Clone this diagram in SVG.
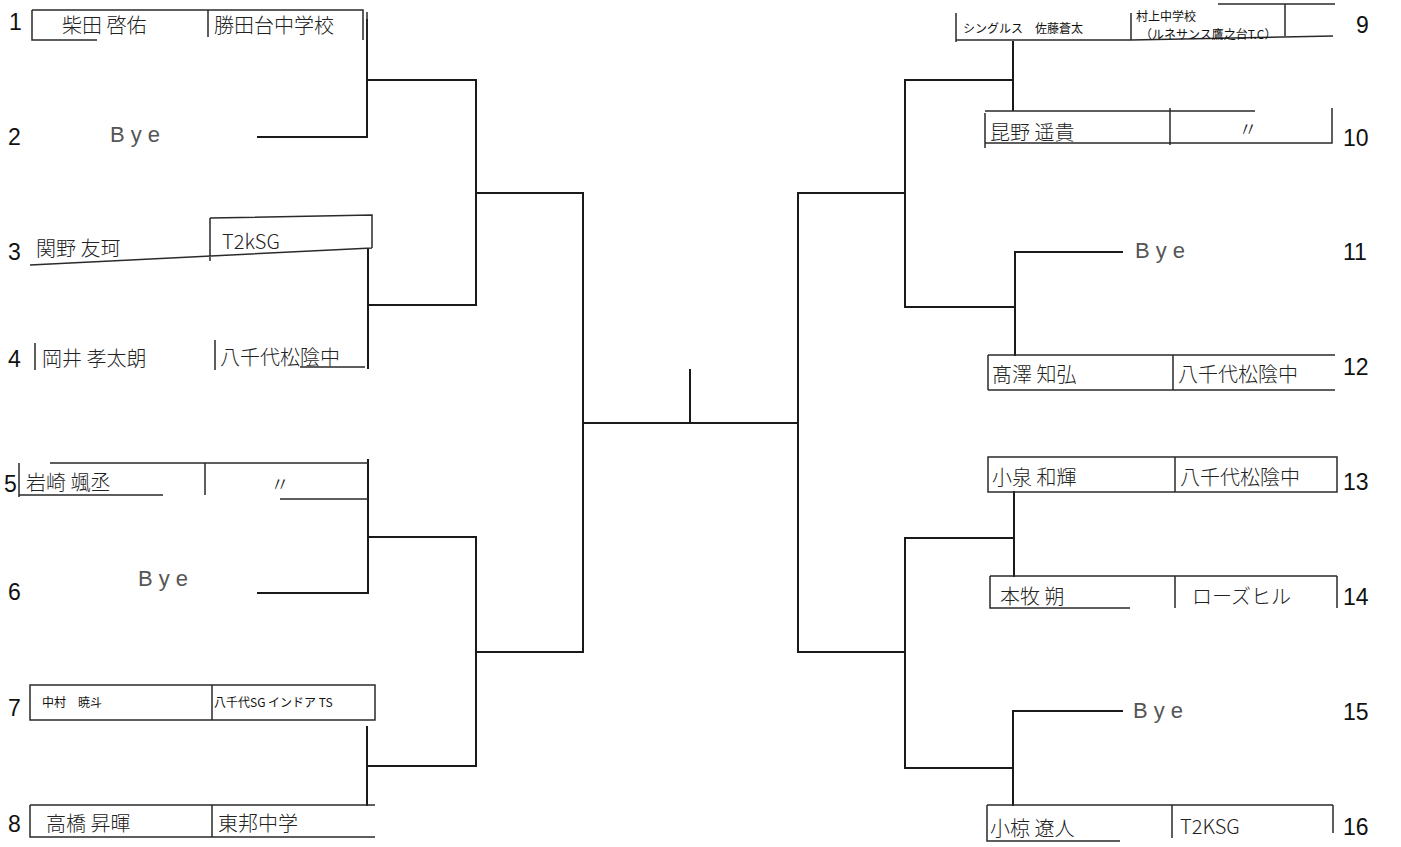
<svg xmlns="http://www.w3.org/2000/svg" width="1401" height="847" viewBox="0 0 1401 847">
<style>
.ln{stroke:#1a1a1a;stroke-width:2;fill:none;stroke-linecap:square}
.bx{stroke:#2a2a2a;stroke-width:1.5;fill:none}
.num{font-family:"Liberation Sans",Arial,sans-serif;font-size:23px;fill:#111}
.hw{font-family:"Noto Sans CJK JP","Noto Sans",sans-serif;font-size:20px;fill:#222;font-weight:300}
.pr{font-family:"Noto Sans CJK JP","Noto Sans",sans-serif;font-size:12px;fill:#111}
.bye{font-family:"Liberation Sans",Arial,sans-serif;font-size:22px;fill:#555;letter-spacing:6px}
</style>
<rect width="1401" height="847" fill="#fff"/>
<g id="connectors">
<path class="ln" d="M367 20V137M258 137H367M367 80H476"/>
<path class="ln" d="M368 250V368M368 305H476"/>
<path class="ln" d="M368 460V593M258 593H368M368 537H476"/>
<path class="ln" d="M367 727V805M367 766H476"/>
<path class="ln" d="M476 80V305M476 193H583"/>
<path class="ln" d="M476 537V766M476 652H583"/>
<path class="ln" d="M583 193V652M583 423H798M690 370V423"/>
<path class="ln" d="M798 193V652M798 193H905M798 652H905"/>
<path class="ln" d="M905 80V307M905 538V768"/>
<path class="ln" d="M1013 42V110M905 80H1013"/>
<path class="ln" d="M1015 252V355M1015 252H1122M905 307H1015"/>
<path class="ln" d="M1014 492V576M905 538H1014"/>
<path class="ln" d="M1013 711V805M1013 711H1122M905 768H1013"/>
</g>
<g id="n1">
<text class="num" x="9" y="30">1</text>
<path class="bx" d="M32 10H363V40M32 10V40H97M208 10V37M367 12V40"/>
<text class="hw" x="62" y="33">柴田 啓佑</text>
<text class="hw" x="214" y="33" font-size="19">勝田台中学校</text>
</g>
<g id="n2">
<text class="num" x="8" y="145">2</text>
<text class="bye" x="110" y="142">Bye</text>
</g>
<g id="n3">
<text class="num" x="8" y="260">3</text>
<path class="bx" d="M210 218L372 215V248M30 265L372 248M210 218V261"/>
<text class="hw" x="36" y="256">関野 友珂</text>
<text class="hw" x="222" y="249">T2kSG</text>
</g>
<g id="n4">
<text class="num" x="8" y="367">4</text>
<path class="bx" d="M35 343V370M215 340V370M300 367H365"/>
<text class="hw" x="42" y="366">岡井 孝太朗</text>
<text class="hw" x="220" y="365" font-size="19">八千代松陰中</text>
</g>
<g id="n5">
<text class="num" x="4" y="492">5</text>
<path class="bx" d="M50 463H368M19 463V497M19 495H163M205 463V495M280 499H368"/>
<text class="hw" x="26" y="490">岩崎 颯丞</text>
<text class="hw" x="270" y="492">〃</text>
</g>
<g id="n6">
<text class="num" x="8" y="600">6</text>
<text class="bye" x="138" y="586">Bye</text>
</g>
<g id="n7">
<text class="num" x="8" y="716">7</text>
<rect class="bx" x="30" y="685" width="345" height="35"/>
<path class="bx" d="M212 685V720"/>
<text class="pr" x="42" y="707">中村　暁斗</text>
<text class="pr" x="214" y="707">八千代SG インドア TS</text>
</g>
<g id="n8">
<text class="num" x="8" y="832">8</text>
<path class="bx" d="M30 805H375M30 805V837H375M212 805V837"/>
<text class="hw" x="46" y="831">高橋 昇暉</text>
<text class="hw" x="218" y="831">東邦中学</text>
</g>
<g id="n9">
<text class="num" x="1356" y="33">9</text>
<path class="bx" d="M956 13V42M956 40H1131L1333 36M1131 13V40M1218 4H1335M1285 4V36"/>
<text class="pr" x="963" y="33">シングルス　佐藤蒼太</text>
<text class="pr" x="1136" y="21">村上中学校</text>
<text class="pr" x="1140" y="39" font-size="11">（ルネサンス鷹之台T.C）</text>
</g>
<g id="n10">
<text class="num" x="1343" y="146">10</text>
<path class="bx" d="M985 111H1255M985 113V148M985 143H1332V108M1170 108V145"/>
<text class="hw" x="990" y="140">昆野 遥貴</text>
<text class="hw" x="1238" y="137">〃</text>
</g>
<g id="n11">
<text class="num" x="1343" y="260">11</text>
<text class="bye" x="1135" y="258">Bye</text>
</g>
<g id="n12">
<text class="num" x="1343" y="375">12</text>
<path class="bx" d="M988 355H1335M988 390H1335M988 355V390M1173 355V390"/>
<text class="hw" x="992" y="382">髙澤 知弘</text>
<text class="hw" x="1178" y="382" font-size="19">八千代松陰中</text>
</g>
<g id="n13">
<text class="num" x="1343" y="490">13</text>
<rect class="bx" x="988" y="457" width="349" height="35"/>
<path class="bx" d="M1175 457V492"/>
<text class="hw" x="992" y="485">小泉 和輝</text>
<text class="hw" x="1180" y="485" font-size="19">八千代松陰中</text>
</g>
<g id="n14">
<text class="num" x="1343" y="605">14</text>
<path class="bx" d="M990 576H1337M990 576V608H1130M1175 576V608M1337 576V608"/>
<text class="hw" x="1000" y="604">本牧 朔</text>
<text class="hw" x="1192" y="604">ローズヒル</text>
</g>
<g id="n15">
<text class="num" x="1343" y="720">15</text>
<text class="bye" x="1133" y="718">Bye</text>
</g>
<g id="n16">
<text class="num" x="1343" y="835">16</text>
<path class="bx" d="M987 805H1333M987 805V841H1120M1172 805V838M1333 805V833"/>
<text class="hw" x="990" y="836">小椋 遼人</text>
<text class="hw" x="1180" y="834">T2KSG</text>
</g>
</svg>
